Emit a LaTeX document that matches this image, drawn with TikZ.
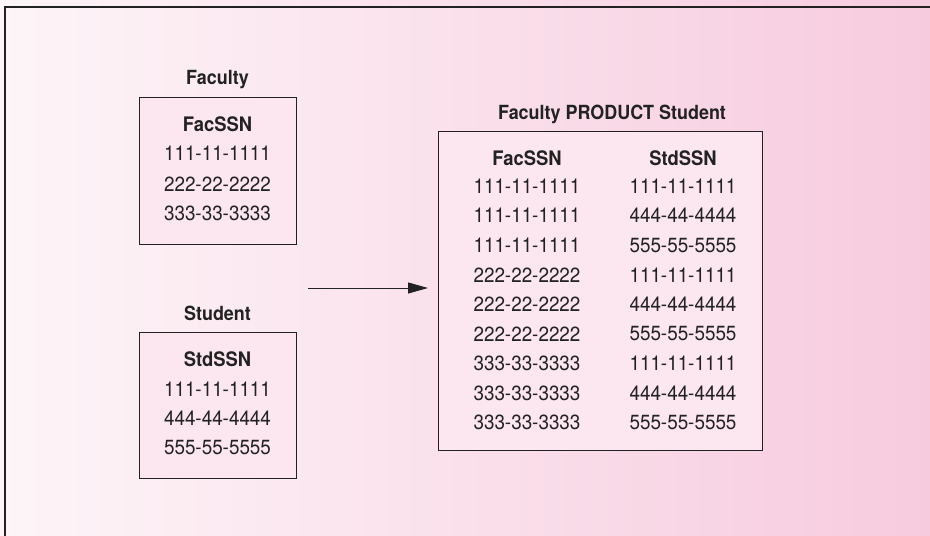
\documentclass[tikz,border=0pt]{standalone}
\usepackage{fontspec}
\setmainfont{TeX Gyre Heros}[FakeStretch=0.92]
\usetikzlibrary{arrows.meta}
\definecolor{bgleft}{HTML}{FDF5F8}
\definecolor{bgright}{HTML}{F7CBDE}
\definecolor{boxfill}{HTML}{FCE6EF}
\definecolor{ink}{HTML}{222222}
\tikzset{
  tbl/.style={draw=ink, line width=1pt, fill=boxfill},
  ttl/.style={font=\fontsize{19.5}{22}\selectfont\bfseries, text=ink, inner sep=0pt},
  hdr/.style={font=\fontsize{20}{23}\selectfont\bfseries, text=ink, inner sep=0pt},
  val/.style={font=\fontsize{20.5}{23}\selectfont, text=ink, inner sep=0pt},
}
\begin{document}
\begin{tikzpicture}[x=1pt,y=-1pt]
  % background with a left-to-right pink gradient
  \shade[left color=bgleft, right color=bgright] (0,0) rectangle (930,536);
  \useasboundingbox (0,0) rectangle (930,536);
  % outer frame: top and left edges
  \draw[ink, line width=1.3pt] (5,536) -- (5,7) -- (930,7);

  % Faculty table
  \node[ttl] (facT) at (217.5,80) {Faculty};
  \draw[tbl] (139,97) rectangle (296,244);
  \node[hdr] (facH) at (217.5,124) {FacSSN};
  \node[val] (f1) at (217.5,153) {111-11-1111};
  \node[val] (f2) at (217.5,184) {222-22-2222};
  \node[val] (f3) at (217.5,213) {333-33-3333};

  % Student table
  \node[ttl] (stdT) at (217.5,313) {Student};
  \draw[tbl] (139,332) rectangle (296,478);
  \node[hdr] (stdH) at (217.5,359) {StdSSN};
  \node[val] (s1) at (217.5,389) {111-11-1111};
  \node[val] (s2) at (217.5,418) {444-44-4444};
  \node[val] (s3) at (217.5,448) {555-55-5555};

  % product result table
  \node[ttl] (prodT) at (612,114) {Faculty PRODUCT Student};
  \node[tbl, minimum width=324pt, minimum height=319pt, anchor=north west, inner sep=0pt] (prod) at (438,131) {};
  \node[hdr] (pH1) at (527,158) {FacSSN};
  \node[hdr] (pH2) at (683,158) {StdSSN};
  \foreach \i/\a/\b in {0/111-11-1111/111-11-1111,
                        1/111-11-1111/444-44-4444,
                        2/111-11-1111/555-55-5555,
                        3/222-22-2222/111-11-1111,
                        4/222-22-2222/444-44-4444,
                        5/222-22-2222/555-55-5555,
                        6/333-33-3333/111-11-1111,
                        7/333-33-3333/444-44-4444,
                        8/333-33-3333/555-55-5555}{
    \node[val] (pa\i) at (527,186+29.6*\i) {\a};
    \node[val] (pb\i) at (683,186+29.6*\i) {\b};
  }

  % arrow into the product table
  \coordinate (arrS) at (308,288);
  \coordinate (arrE) at (428,288);
  \draw[ink, line width=1pt, -{Triangle[length=20pt,width=11pt]}] (arrS) -- (arrE);
\end{tikzpicture}
\end{document}
